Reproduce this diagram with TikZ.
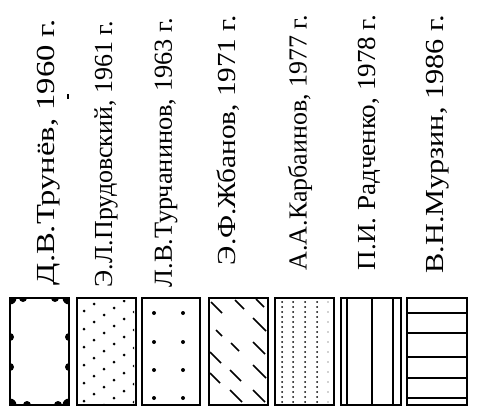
\documentclass[tikz,border=0pt]{standalone}
\usepackage{fontspec}
\setmainfont{Liberation Serif}
\usepackage{graphicx}
\usetikzlibrary{positioning}
\newcommand{\widelbl}[2]{\resizebox{#1}{\height}{#2}}

\begin{document}
\begin{tikzpicture}[x=1pt, y=-1pt,
   lab/.style={rotate=90, anchor=east, inner sep=0pt, font=\fontsize{26}{26}\selectfont},
   cell/.style={draw=black, line width=1.4pt},
   bar/.style={line width=1.6pt}]
  \useasboundingbox (0,0) rectangle (477,417);
  \fill (67,94) rectangle (69,99);
  % labels
  \node[lab] (l1) at (49,19) {\widelbl{266pt}{Д.В.Трунёв, 1960 г.}};
  \node[lab] (l2) at (106,21) {\widelbl{266pt}{Э.Л.Прудовский, 1961 г.}};
  \node[lab] (l3) at (166,18) {\widelbl{269pt}{Л.В.Турчанинов, 1963 г.}};
  \node[lab] (l4) at (228,15) {\widelbl{250pt}{Э.Ф.Жбанов, 1971 г.}};
  \node[lab] (l5) at (300,15) {\widelbl{255pt}{А.А.Карбаинов, 1977 г.}};
  \node[lab] (l6) at (369,15) {\widelbl{255pt}{П.И. Радченко, 1978 г.}};
  \node[lab] (l7) at (438,15) {\widelbl{258pt}{В.Н.Мурзин, 1986 г.}};
  % 1: scalloped frame
  \begin{scope}
    \clip (10,298) rectangle (69,405);
    \foreach \bx/\by in {23/298, 55/298, 27/405, 58/405, 10/337, 10/367,
        69/337, 69/367}
      \fill (\bx,\by) circle (4);
    \foreach \bx/\by in {10/298, 69/298, 10/405, 69/405}
      \fill (\bx,\by) circle (6.5);
  \end{scope}
  \draw[line width=2.8pt] (10,298) rectangle (69,405);
  % 2: oblique rows of dots
  \begin{scope}
    \clip (79,300) rectangle (134,403);
    \foreach \r in {-1,...,7} \foreach \k in {0,...,6}
      \fill (74+10*\k, 318+18*\r-7*\k) circle (1.5);
  \end{scope}
  \draw[cell] (77,298) rectangle (136,405);
  % 3: sparse dots
  \foreach \cx in {154,183} \foreach \cy in {313,342,370,398}
    \fill (\cx,\cy) circle (2);
  \draw[cell] (142,298) rectangle (200,405);
  % 4: dashed hatching
  \foreach \sx/\sy/\sl in {211/302/11, 235/300/9, 256/299/8, 253/318/13, 216/330/6,
      231/343/8, 253/342/12, 210/352/11, 230/370/11, 253/365/13, 210/373/10,
      230/390/12, 253/390/12}
    \draw[line width=1.6pt] (\sx,\sy) -- ++(\sl,\sl);
  \draw[cell] (209,298) rectangle (268,405);
  % 5: vertical rows of fine dots
  \foreach \cx in {282,293,305,317} \foreach \cy in {302,307,...,402}
    \fill (\cx,\cy) circle (1);
  \foreach \cy in {302,312,...,402}
    \fill[black!35] (328,\cy) circle (0.8);
  \draw[cell] (275,298) rectangle (334,405);
  % 6: vertical lines
  \foreach \vx in {347,372,393}
    \draw[bar] (\vx,298) -- (\vx,405);
  \draw[cell] (341,298) rectangle (401,405);
  % 7: horizontal lines
  \foreach \hy in {313,333,357,378,398}
    \draw[bar] (407,\hy) -- (467,\hy);
  \draw[cell] (407,298) rectangle (467,405);
\end{tikzpicture}
\end{document}
